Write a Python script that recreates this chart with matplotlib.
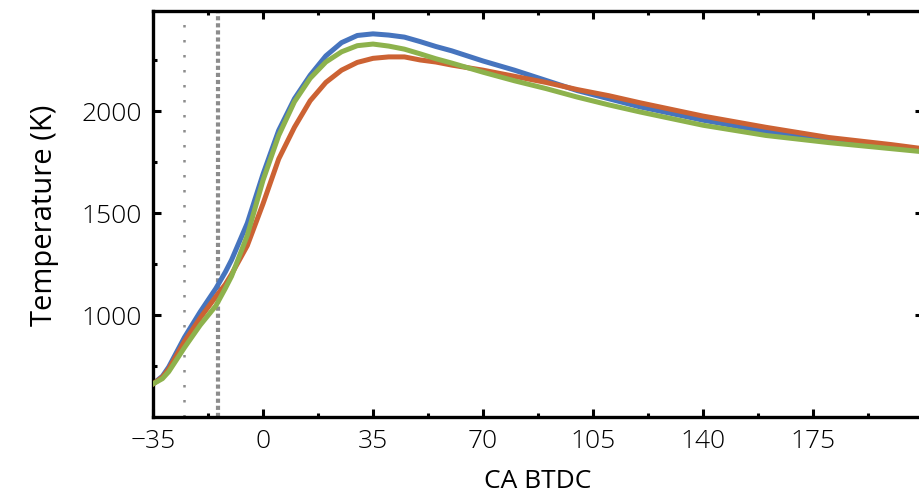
import matplotlib
matplotlib.use('Agg')
import matplotlib.pyplot as plt
from matplotlib.ticker import MultipleLocator, FixedLocator

# crank angle grid (deg BTDC) and temperatures (K)
ca = [-35, -32, -30, -25, -20, -15, -12, -10, -5, 0, 5, 10, 15, 20, 25, 30, 35, 40, 45, 50, 55, 60,
      70, 80, 90, 100, 110, 120, 140, 160, 180, 200, 210]
t_blue = [662, 700, 745, 890, 1015, 1130, 1210, 1270, 1450, 1690, 1905, 2060, 2175, 2270, 2335, 2370, 2378, 2372,
          2362, 2340, 2316, 2295, 2245, 2200, 2150, 2100, 2060, 2020, 1955, 1900, 1860, 1825, 1805]
t_orange = [662, 695, 735, 870, 985, 1090, 1150, 1200, 1340, 1545, 1765, 1920, 2050, 2140, 2200, 2238, 2258, 2265,
            2265, 2250, 2240, 2225, 2200, 2170, 2140, 2105, 2075, 2040, 1975, 1920, 1870, 1835, 1815]
t_green = [662, 688, 722, 840, 950, 1045, 1130, 1190, 1390, 1660, 1880, 2045, 2160, 2240, 2290, 2320, 2328, 2318,
           2303, 2280, 2256, 2235, 2190, 2148, 2110, 2068, 2030, 1995, 1930, 1880, 1845, 1815, 1800]

ign_thin = -25     # thin dotted marker
ign_thick = -14.3  # thick dotted marker

plt.rcParams['font.family'] = ['Open Sans', 'DejaVu Sans']
plt.rcParams['font.weight'] = 'light'

fig = plt.figure(figsize=(9.2, 5.02), dpi=100)
ax = fig.add_axes([153/920, 84/502, (923-153)/920, 406/502])

ax.axvline(ign_thin, color='#8c8c8c', lw=1.8, ls=(0, (1, 5)), zorder=1)
ax.axvline(ign_thick, color='#8c8c8c', lw=3.0, ls=(0, (1, 0.7)), zorder=1)

ax.plot(ca, t_orange, color='#cc6233', lw=3.6, zorder=3)
ax.plot(ca, t_blue, color='#4674be', lw=3.6, zorder=2)
ax.plot(ca, t_green, color='#8db24c', lw=3.6, zorder=4)

ax.set_xlim(-35, 210)
ax.set_ylim(500, 2490)
ax.set_xticks([-35, 0, 35, 70, 105, 140, 175])
ax.xaxis.set_minor_locator(MultipleLocator(17.5))
ax.set_yticks([1000, 1500, 2000])
ax.yaxis.set_minor_locator(FixedLocator([750, 1250, 1750, 2250]))

ax.tick_params(which='both', direction='in', top=True, right=True, labelsize=19, width=2.2)
ax.tick_params(which='major', length=6, pad=8)
ax.tick_params(which='minor', length=3)
for s in ax.spines.values():
    s.set_linewidth(2.4)

ax.set_xlabel('CA BTDC', fontsize=19, labelpad=11)
ax.set_ylabel('Temperature (K)', fontsize=21, labelpad=16)

fig.savefig('out.png', dpi=100)
